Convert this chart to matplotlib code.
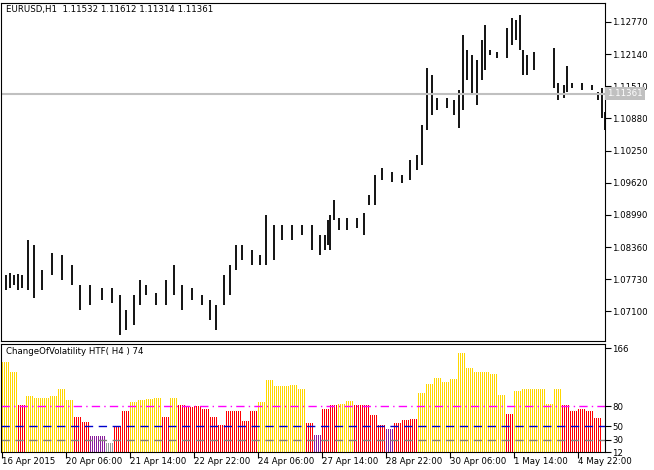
import matplotlib.pyplot as plt

# H1 price bars (hour index, high, low)
bar_hours = [2, 4, 6, 8, 10, 13, 16, 20, 25, 30, 35, 39, 44, 50, 55, 59, 62, 66, 69, 72,
             77, 82, 86, 90, 95, 100, 104, 107, 111, 114, 117, 120, 125, 129, 132, 136, 140,
             145, 150, 155, 159, 163, 161.5, 164, 166, 168.5, 172.5, 177.5, 181, 183.5, 186.5,
             190, 195, 200, 204, 207.5, 210, 212.5, 215, 217.5, 222.5, 226, 228.5, 230.5,
             232.5, 235, 237.5, 240, 241.5, 244, 247.5, 252.5, 255, 257, 259, 260.5, 262.5,
             266, 270, 274, 276, 278, 281, 282.5, 285, 290, 295, 298, 300, 301.5]
bar_high = [1.0781, 1.0786, 1.0781, 1.0783, 1.0781, 1.0850, 1.0840, 1.0791, 1.0824, 1.0820,
            1.0801, 1.0762, 1.0762, 1.0756, 1.0756, 1.0742, 1.0713, 1.0742, 1.0771, 1.0762,
            1.0746, 1.0771, 1.0801, 1.0762, 1.0756, 1.0742, 1.0732, 1.0722, 1.0781, 1.0801,
            1.0840, 1.0840, 1.0830, 1.0820, 1.0899, 1.0879, 1.0879, 1.0879, 1.0879, 1.0879,
            1.0860, 1.0889, 1.0860, 1.0899, 1.0928, 1.0893, 1.0893, 1.0893, 1.0903, 1.0938,
            1.0977, 1.0991, 1.0983, 1.0977, 1.1006, 1.1016, 1.1075, 1.1187, 1.1173, 1.1128,
            1.1128, 1.1124, 1.1144, 1.1252, 1.1222, 1.1212, 1.1203, 1.1242, 1.1271, 1.1222,
            1.1218, 1.1265, 1.1285, 1.1281, 1.1291, 1.1222, 1.1212, 1.1218, 1.1203, 1.1203,
            1.1226, 1.1157, 1.1154, 1.1191, 1.1157, 1.1157, 1.1154, 1.1140, 1.1148, 1.1101]
bar_low = [1.0752, 1.0756, 1.0762, 1.0752, 1.0756, 1.0752, 1.0736, 1.0752, 1.0781, 1.0771,
           1.0762, 1.0713, 1.0722, 1.0732, 1.0726, 1.0664, 1.0673, 1.0683, 1.0722, 1.0742,
           1.0722, 1.0722, 1.0742, 1.0713, 1.0732, 1.0722, 1.0693, 1.0673, 1.0722, 1.0742,
           1.0791, 1.0811, 1.0801, 1.0801, 1.0801, 1.0811, 1.0850, 1.0850, 1.0860, 1.0830,
           1.0820, 1.0840, 1.0830, 1.0830, 1.0889, 1.0869, 1.0869, 1.0873, 1.0860, 1.0918,
           1.0918, 1.0967, 1.0963, 1.0961, 1.0967, 1.0987, 1.0997, 1.1065, 1.1095, 1.1105,
           1.1108, 1.1095, 1.1069, 1.1105, 1.1163, 1.1134, 1.1114, 1.1163, 1.1183, 1.1212,
           1.1206, 1.1206, 1.1232, 1.1242, 1.1222, 1.1173, 1.1173, 1.1183, 1.1203, 1.1203,
           1.1148, 1.1124, 1.1128, 1.1140, 1.1148, 1.1144, 1.1144, 1.1124, 1.1089, 1.1065]
last_price = 1.11361
price_ticks = [1.12770, 1.12140, 1.11510, 1.10880, 1.10250, 1.09620, 1.08990, 1.08360, 1.07730, 1.07100]

# ChangeOfVolatility HTF(H4): one value per H4 bar (4 H1 bars)
vol_values = [146, 130, 81, 95, 92, 92, 95, 105, 89, 64, 57, 35, 35, 26, 50, 73, 86, 89, 90, 92,
              64, 92, 81, 78, 80, 76, 64, 52, 72, 72, 58, 73, 86, 119, 110, 110, 111, 105, 55, 37,
              76, 81, 83, 88, 81, 81, 67, 52, 46, 55, 60, 61, 100, 112, 122, 116, 120, 158, 137,
              130, 130, 127, 96, 68, 102, 106, 106, 106, 83, 105, 81, 73, 76, 72, 62]
vol_colors = list("YYRYYYYYYRRPPGRRYYYYRYRRRRRRRRRRYYYYYYRPR"
                  "RYYRRRRPRRRYYYYYYYYYYYRYYYYYYRRRRR")
levels = [80, 50, 30]
vol_ticks = [166, 80, 50, 30, 12]

time_labels = ["16 Apr 2015", "20 Apr 06:00", "21 Apr 14:00", "22 Apr 22:00", "24 Apr 06:00",
               "27 Apr 14:00", "28 Apr 22:00", "30 Apr 06:00", "1 May 14:00", "4 May 22:00"]
time_label_hours = [0, 32, 64, 96, 128, 160, 192, 224, 256, 288]

color_map = {"Y": "#FFD700", "R": "#FF0000", "P": "#8B1A9B", "G": "#999999"}
plt.rcParams['font.family'] = 'DejaVu Sans'
FS = 6.2

fig = plt.figure(figsize=(6.54, 4.70), dpi=100)
x0, x1 = 1 / 654, 605 / 654
ax = fig.add_axes([x0, 1 - 341 / 470, x1 - x0, 338 / 470])
ax2 = fig.add_axes([x0, 1 - 452 / 470, x1 - x0, 108 / 470])
# exactly 2 px per hour, bar centres on pixel centres
xmin, xmax = -0.25, 301.75

# price panel
ax.vlines(bar_hours, bar_low, bar_high, color='black', linewidth=1.3)
ax.axhline(last_price, color='#C0C0C0', linewidth=1.5)
ax.set_xlim(xmin, xmax)
ax.set_ylim(1.0652, 1.1314)
ax.set_xticks([])
ax.yaxis.tick_right()
ax.set_yticks(price_ticks)
ax.set_yticklabels([f"{t:.5f}" for t in price_ticks], fontsize=FS)
ax.tick_params(axis='y', length=4, pad=1)
ax.text(1.004, last_price, f"{last_price:.5f}", transform=ax.get_yaxis_transform(),
        fontsize=FS, color='white', va='center', ha='left', zorder=10, clip_on=False,
        bbox=dict(boxstyle='square,pad=0.25', fc='#C0C0C0', ec='none'))
ax.text(0.008, 0.995, "EURUSD,H1  1.11532 1.11612 1.11314 1.11361", transform=ax.transAxes,
        fontsize=FS, va='top', ha='left')

# volatility panel: each H4 value drawn as thin stripes over its 4 H1 bars
stripe_x = [i * 4 + k for i in range(len(vol_values)) for k in range(4)]
stripe_h = [v for v in vol_values for _ in range(4)]
stripe_c = [color_map[c] for c in vol_colors for _ in range(4)]
ax2.vlines(stripe_x, 0, stripe_h, colors=stripe_c, linewidth=0.72, antialiased=False)
ax2.axhline(levels[0], color='#FF00FF', linestyle=(0, (6, 3, 1, 3)), linewidth=1)
ax2.axhline(levels[1], color='#0000CC', linestyle=(0, (6, 4)), linewidth=1)
ax2.axhline(levels[2], color='#808080', linestyle=(0, (6, 4)), linewidth=1)
ax2.set_xlim(xmin, xmax)
ax2.set_ylim(12, 172)
ax2.yaxis.tick_right()
ax2.set_yticks(vol_ticks)
ax2.set_yticklabels([str(t) for t in vol_ticks], fontsize=FS)
ax2.tick_params(axis='y', length=4, pad=1)
ax2.set_xticks(time_label_hours)
ax2.set_xticklabels([])
ax2.tick_params(axis='x', length=4, direction='out')
for h, lab in zip(time_label_hours, time_labels):
    ax2.text(h + 0.5, -0.045, lab, transform=ax2.get_xaxis_transform(), fontsize=FS,
             va='top', ha='left')
ax2.text(0.008, 0.97, "ChangeOfVolatility HTF( H4 ) 74", transform=ax2.transAxes,
         fontsize=FS, va='top', ha='left')

fig.savefig("out.png", dpi=100)
